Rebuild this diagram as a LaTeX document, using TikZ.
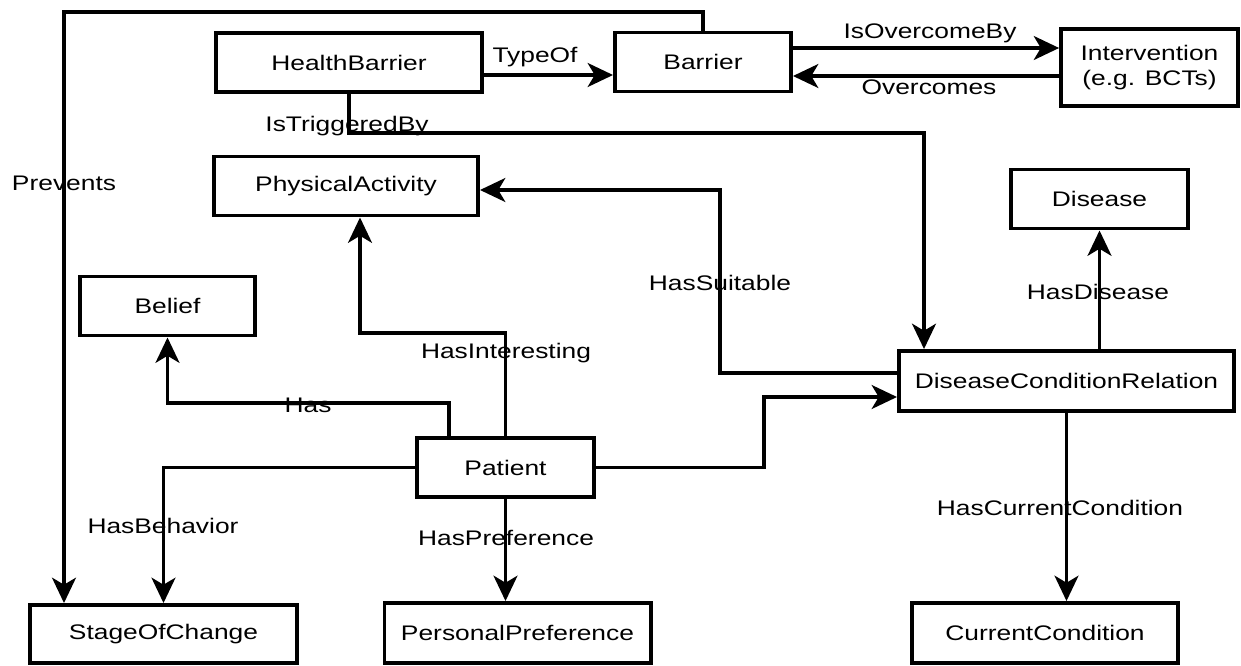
\documentclass[tikz,border=0pt]{standalone}
\usepackage{fontspec}
\setmainfont{Liberation Sans}[FakeStretch=1.25]
\usepackage{tikz}
\usetikzlibrary{positioning,calc,arrows.meta}

\tikzset{
    box/.style={draw, line width=2.8pt, minimum height=1.475cm, inner sep=2pt, font=\fontsize{15}{18}\selectfont},
    wide/.style={box, minimum width=6.65cm},
    narrow/.style={box, minimum width=4.42cm},
    rel/.style={font=\fontsize{15}{18}\selectfont, inner sep=0pt},
    arr/.style={line width=2.5pt, -{Stealth[length=18pt, width=17pt, inset=5pt]}},
    link/.style={line width=2.5pt}
}

\begin{document}
\begin{tikzpicture}[x=0.025cm, y=-0.025cm]
    \useasboundingbox (0,0) rectangle (1241,665);

    % Concepts
    \node[wide] (hb) at (349,62.5) {HealthBarrier};
    \node[narrow, minimum width=4.4cm] (barrier) at (703,62) {Barrier};
    \node[narrow, minimum height=1.925cm, align=center] (interv) at (1149.5,67.5) {Intervention\\(e.g. BCTs)};
    \node[wide, minimum width=6.6cm] (pa) at (346,186) {PhysicalActivity};
    \node[narrow] (disease) at (1099.5,199) {Disease};
    \node[narrow, minimum width=4.375cm] (belief) at (167.5,306) {Belief};
    \node[narrow] (patient) at (505.5,467.5) {Patient};
    \node[box, minimum width=8.375cm, minimum height=1.5cm] (dcr) at (1066.5,381) {DiseaseConditionRelation};
    \node[wide, minimum height=1.45cm] (soc) at (163.5,634) {StageOfChange};
    \node[wide, minimum height=1.5cm] (pref) at (517.5,633) {PersonalPreference};
    \node[wide, minimum height=1.5cm] (cc) at (1045,633) {CurrentCondition};

    % Relations
    \draw[arr] (hb.east |- 0,75) -- (barrier.west |- 0,75);
    \draw[arr] (barrier.east |- 0,48) -- (interv.west |- 0,48);
    \draw[arr] (interv.west |- 0,76) -- (barrier.east |- 0,76);
    \coordinate (prevtop) at (64,12);
    \draw[arr] (barrier.north) |- (prevtop) -- (prevtop |- soc.north);
    \coordinate (trig) at (924,133);
    \draw[arr] (hb.south) |- (trig) -- (trig |- dcr.north);
    \draw[arr] (dcr.west |- 0,373) -| (720,190) -- (pa.east |- 0,190);
    \draw[arr] (patient.east) -| (764,397) -- (dcr.west |- 0,397);
    \draw[arr] (patient.north -| 449,0) |- (belief.south |- 0,403) -- (belief.south);
    \draw[arr] (patient.north) |- (360,333) -- (pa.south -| 360,0);
    \draw[arr] (patient.west) -| (soc.north);
    \draw[arr] (patient.south) -- (patient.south |- pref.north);
    \draw[arr] (dcr.north -| disease.south) -- (disease.south);
    \draw[arr] (dcr.south) -- (dcr.south |- cc.north);

    % Labels
    \node[rel] (lprev) at (64,183) {Prevents};
    \node[rel] (ltype) at (535,57) {TypeOf};
    \node[rel] (lover) at (930,33) {IsOvercomeBy};
    \node[rel] (lovers) at (929,87) {Overcomes};
    \node[rel] (ltrig) at (347,126) {IsTriggeredBy};
    \node[rel] (lsuit) at (720,283) {HasSuitable};
    \node[rel] (ldis) at (1098,292) {HasDisease};
    \node[rel] (lint) at (506,353) {HasInteresting};
    \node[rel] (lhas) at (308,405) {Has};
    \node[rel] (lbeh) at (163,526) {HasBehavior};
    \node[rel] (lpref) at (506,538) {HasPreference};
    \node[rel] (lcur) at (1060,508) {HasCurrentCondition};
\end{tikzpicture}
\end{document}
